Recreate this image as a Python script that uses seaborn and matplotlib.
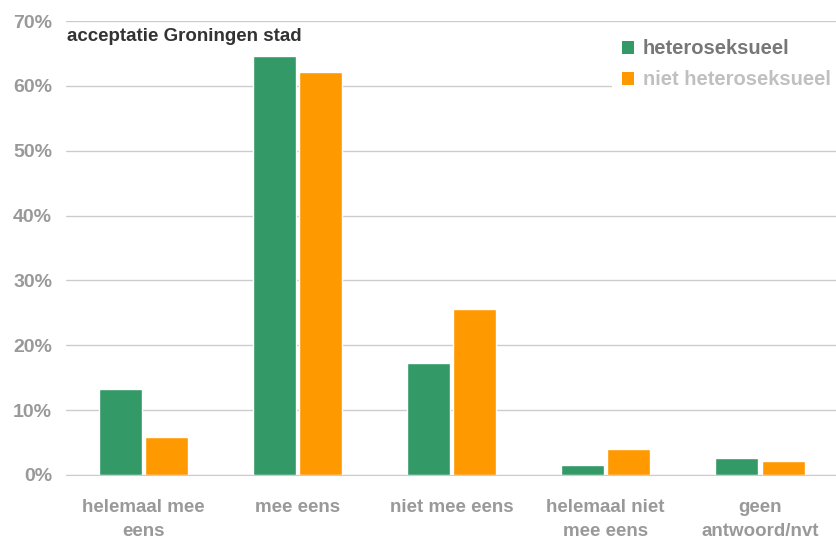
import pandas as pd
import numpy as np
import matplotlib.pyplot as plt
import seaborn as sns
from matplotlib.patches import Patch

categories = ['helemaal mee\neens', 'mee eens', 'niet mee eens', 'helemaal niet\nmee eens', 'geen\nantwoord/nvt']
groups = ['heteroseksueel', 'niet heteroseksueel']
hetero = [13.3, 64.6, 17.3, 1.5, 2.6]
niet_hetero = [5.8, 62.1, 25.6, 4.0, 2.2]
yticks = [0, 10, 20, 30, 40, 50, 60, 70]

colors = ['#339966', '#FF9900']

df = pd.DataFrame({
    'cat': categories * 2,
    'groep': [groups[0]] * 5 + [groups[1]] * 5,
    'pct': hetero + niet_hetero,
})

sns.set_style('white')
plt.rcParams['font.family'] = ['Liberation Sans', 'DejaVu Sans']

fig = plt.figure(figsize=(8.37, 5.40), dpi=100)
ax = fig.add_axes([0.079, 0.1204, 0.921, 0.8407])

sns.barplot(data=df, x='cat', y='pct', hue='groep', palette=colors,
            width=0.6, gap=0.07, saturation=1, ax=ax, legend=False)

ax.set_ylim(0, 70)
ax.set_xlim(-0.5, 4.5)
ax.set_yticks(yticks)
ax.set_yticklabels([f'{v}%' for v in yticks], fontsize=14, fontweight='bold', color='#999999')
ax.yaxis.grid(True, color='#cccccc', linewidth=1)
ax.set_axisbelow(True)
ax.tick_params(axis='y', length=0, pad=10)

ax.set_xticks(range(len(categories)))
ax.set_xticklabels(categories, fontsize=13.5, fontweight='bold', color='#999999', linespacing=1.55)
ax.tick_params(axis='x', length=0, pad=17)
ax.set_xticks(np.arange(-0.5, 4.6, 1), minor=True)
ax.tick_params(axis='x', which='minor', length=6, color='#cccccc', width=1)
ax.set_xlabel('')
ax.set_ylabel('')

for s in ['top', 'right', 'left']:
    ax.spines[s].set_visible(False)
ax.spines['bottom'].set_color('#cccccc')

ax.text(0.001, 0.985, 'acceptatie Groningen stad', transform=ax.transAxes,
        fontsize=13.5, fontweight='bold', color='#333333', va='top', ha='left')

handles = [Patch(facecolor=c, edgecolor='none') for c in colors]
leg = ax.legend(handles, groups, loc='upper right', bbox_to_anchor=(1.018, 1.004),
                frameon=True, framealpha=1, edgecolor='white', fontsize=14.5,
                handlelength=0.6, handleheight=0.6, handletextpad=0.45,
                labelspacing=0.6, borderpad=0.5)
leg.get_frame().set_linewidth(0)
for t, c in zip(leg.get_texts(), ['#777777', '#c0c0c0']):
    t.set_color(c)
    t.set_fontweight('bold')

fig.savefig('out.png', dpi=100)
